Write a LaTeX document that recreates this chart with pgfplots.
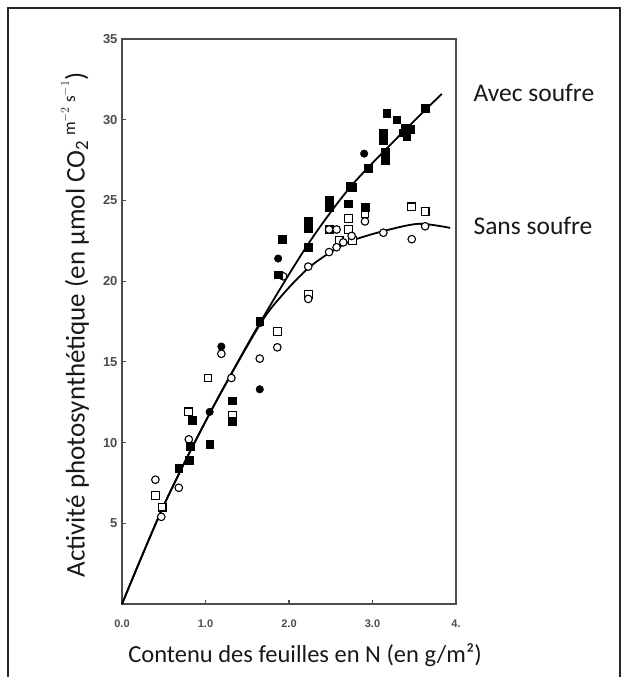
\documentclass[border=0pt]{standalone}
\usepackage{fontspec}
\setmainfont{Carlito}
\newfontfamily\tickfont{Liberation Sans}
\usepackage{pgfplots}
\pgfplotsset{compat=1.18}

\begin{document}
\begin{tikzpicture}[x=1pt,y=1pt]
\useasboundingbox (0,0) rectangle (628,-677);
\draw[line width=2pt, black!85] (8,-677) -- (8,-8) -- (620,-8) -- (620,-677);
\begin{axis}[
  at={(122pt,-39pt)}, anchor=north west,
  scale only axis, width=334pt, height=565pt,
  xmin=0, xmax=4, ymin=0, ymax=35,
  clip=false,
  axis line style={black!70, line width=1.6pt},
  xtick={0,1,2,3,4}, xticklabels={0.0,1.0,2.0,3.0,4.},
  ytick={5,10,15,20,25,30,35},
  tick align=inside, major tick length=4pt,
  tick style={black!70, line width=1.2pt},
  xtick pos=lower, ytick pos=left,
  xticklabel style={font=\fontsize{11}{13}\selectfont\tickfont\bfseries, text=black!70, yshift=-12pt},
  yticklabel style={font=\fontsize{13}{15}\selectfont\tickfont\bfseries, text=black!70, xshift=-1pt},
  /pgf/number format/assume math mode=true,
  xlabel={Contenu des feuilles en N (en g/m²)},
  xlabel style={at={(axis description cs:0.548,-0.0903)}, anchor=center, font=\fontsize{24.5}{29}\selectfont, text=black!90},
  ylabel={Activité photosynthétique (en µmol CO\textsubscript{2}\,{\fontsize{17}{20}\selectfont\raisebox{0.55em}{m$^{-2}$ s$^{-1}$}})},
  ylabel style={at={(axis description cs:-0.1407,0.494)}, anchor=center, font=\fontsize{27}{32}\selectfont, text=black!90},
]
% fitted curves
\addplot[black, line width=1.8pt, smooth, tension=0.5] coordinates {
 (0,0) (0.5,6.1) (1.05,11.8) (1.65,17.4) (2.23,22.3) (2.73,25.8) (3.3,28.9) (3.83,31.6)};
\addplot[black, line width=1.8pt, smooth, tension=0.5] coordinates {
 (0,0) (0.5,6.1) (1.05,11.8) (1.65,17.3) (1.93,19.2) (2.23,20.8) (2.5,21.8) (2.75,22.5) (3.13,23.1) (3.55,23.55) (3.93,23.3)};
% open squares
\addplot[only marks, mark=square*, mark size=3.9pt, mark options={draw=black, fill=white, line width=1.1pt}] coordinates {
 (0.40,6.7) (0.48,6.0) (0.80,11.9) (1.03,14.0) (1.32,11.7) (1.86,16.9) (2.23,19.2) (2.48,23.2)
 (2.71,23.9) (2.71,23.2) (2.76,22.5) (2.91,24.2) (3.47,24.6) (3.63,24.3) (2.60,22.5)};
% open circles
\addplot[only marks, mark=*, mark size=3.8pt, mark options={draw=black, fill=white, line width=1.1pt}] coordinates {
 (0.40,7.7) (0.47,5.4) (0.68,7.2) (0.80,10.2) (1.19,15.5) (1.31,14.0) (1.65,15.2) (1.86,15.9)
 (1.93,20.3) (2.23,20.9) (2.23,18.9) (2.48,21.8) (2.48,23.2) (2.57,23.2) (2.57,22.1) (2.65,22.4)
 (2.75,22.8) (2.91,23.7) (3.13,23.0) (3.47,22.6) (3.63,23.4)};
% filled squares
\addplot[only marks, mark=square*, mark size=3.9pt, mark options={draw=black, fill=black}] coordinates {
 (0.68,8.4) (0.80,8.9) (0.82,9.8) (0.84,11.4) (1.05,9.9) (1.32,12.6) (1.32,11.3) (1.65,17.5)
 (1.87,20.4) (1.92,22.6) (2.23,23.7) (2.23,23.3) (2.23,22.1) (2.48,25.0) (2.48,24.6) (2.71,24.8)
 (2.73,25.9) (2.76,25.8) (2.91,24.6) (2.95,27.0) (3.13,29.2) (3.13,28.7) (3.15,28.0) (3.15,27.5)
 (3.17,30.4) (3.29,30.0) (3.37,29.2) (3.39,29.5) (3.41,29.0) (3.45,29.4) (3.63,30.7)};
% filled circles
\addplot[only marks, mark=*, mark size=3.8pt, mark options={draw=black, fill=black}] coordinates {
 (1.05,11.9) (1.19,15.95) (1.65,13.3) (1.65,17.4) (1.87,21.4) (2.73,25.8) (2.90,27.9)};
\node[anchor=base west, font=\fontsize{25.5}{30}\selectfont, text=black!90] at (axis cs:4.168,31.12) {Avec soufre};
\node[anchor=base west, font=\fontsize{25.5}{30}\selectfont, text=black!90] at (axis cs:4.168,22.92) {Sans soufre};
\end{axis}
\end{tikzpicture}
\end{document}
